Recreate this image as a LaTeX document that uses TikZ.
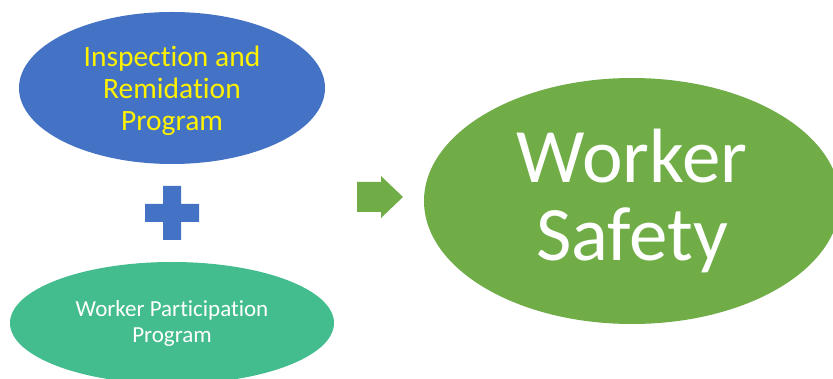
\documentclass[tikz,border=0pt]{standalone}
\usepackage{fontspec}
\setmainfont{Carlito}[Ligatures={NoCommon,NoContextual}]
\usepackage{xcolor}
\usetikzlibrary{shapes, arrows, positioning, calc}

\definecolor{progblue}{HTML}{4472C4}
\definecolor{partteal}{HTML}{44BD8E}
\definecolor{safegreen}{HTML}{70AD47}

\begin{document}
\begin{tikzpicture}[
    x=1pt,
    y=-1pt,
    oval/.style={
        ellipse,
        inner sep=0pt,
        align=center,
        text=white
    }
]
\useasboundingbox (0,0) rectangle (833,379);

% Nodes
\node [oval, fill=progblue, text=yellow, minimum width=306pt, minimum height=152pt,
    text depth=0pt, font=\fontsize{29.5}{32}\selectfont] (inspect) at (172,88) {Inspection and\\Remidation\\Program};
\node [oval, fill=partteal, minimum width=324pt, minimum height=122pt,
    font=\fontsize{23}{26}\selectfont] (partic) at (172,323) {Worker Participation\\Program};
\node [oval, fill=safegreen, minimum width=416pt, minimum height=246pt,
    font=\fontsize{77}{78}\selectfont] (safety) at (632,201) {Worker\\Safety};

% Plus sign between the two programs
\coordinate (plus) at (172,213);
\fill [progblue] ($(plus)+(-9,-27)$) -- ++(18,0) -- ++(0,18) -- ++(18,0) -- ++(0,18)
    -- ++(-18,0) -- ++(0,18) -- ++(-18,0) -- ++(0,-18) -- ++(-18,0) -- ++(0,-18)
    -- ++(18,0) -- cycle;

% Block arrow pointing at the result
\coordinate (arrow) at (357,197);
\fill [safegreen] ($(arrow)+(0,-15)$) -- ++(24,0) -- ++(0,-6) -- ++(22,21)
    -- ++(-22,21) -- ++(0,-6) -- ++(-24,0) -- cycle;

\end{tikzpicture}
\end{document}
